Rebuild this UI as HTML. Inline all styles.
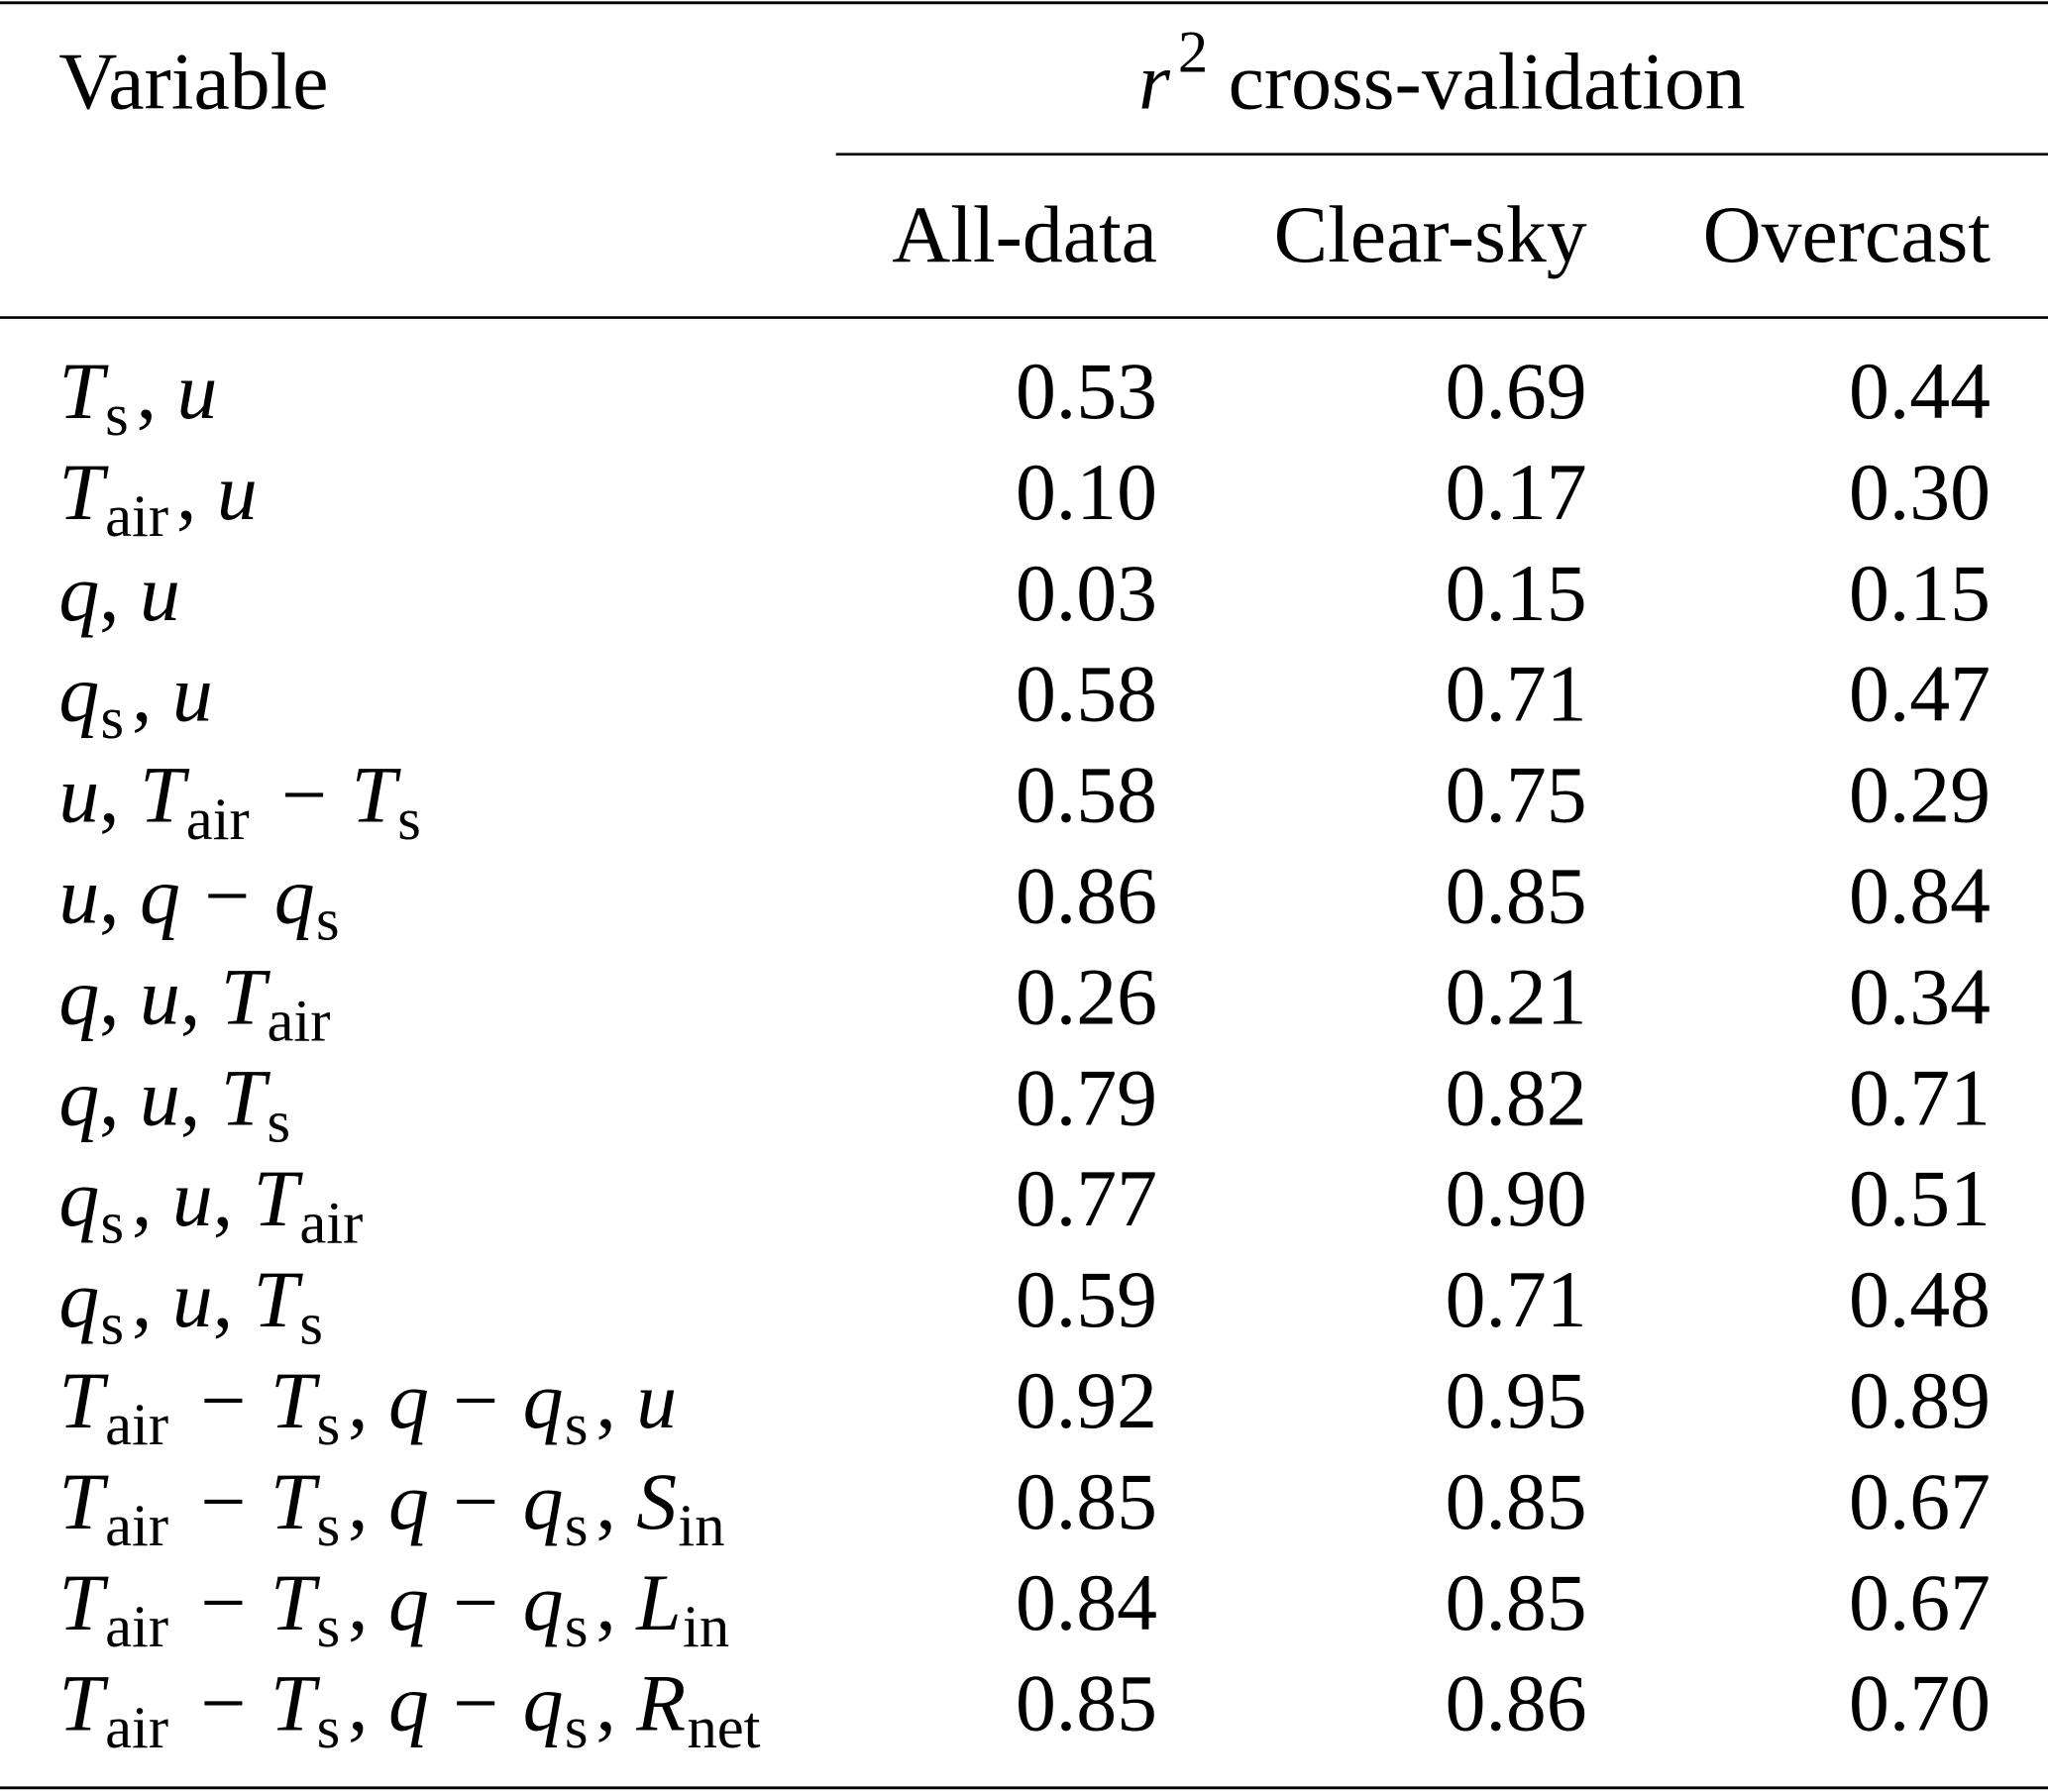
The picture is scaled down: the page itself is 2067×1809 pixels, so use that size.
<!DOCTYPE html>
<html><head><meta charset="utf-8"><style>
html,body{margin:0;padding:0;background:#fff;}
svg{display:block;}
text{font-family:"Liberation Serif",serif;fill:#000;white-space:pre;}
</style></head><body>
<svg id="tbl" width="2067" height="1809" viewBox="0 0 1568 1372" xmlns="http://www.w3.org/2000/svg">
<line x1="0" y1="2" x2="1568" y2="2" stroke="#000" stroke-width="2.2"/>
<line x1="640" y1="118" x2="1568" y2="118" stroke="#000" stroke-width="2"/>
<line x1="0" y1="243" x2="1568" y2="243" stroke="#000" stroke-width="2"/>
<line x1="0" y1="1369" x2="1568" y2="1369" stroke="#000" stroke-width="2.2"/>
<text x="45" y="83" font-size="62">Variable</text>
<text x="1104" y="83" font-size="62" text-anchor="middle"><tspan font-style="italic">r</tspan><tspan font-size="46" dx="6" dy="-28">2</tspan><tspan dy="28"> cross-validation</tspan></text>
<text x="886" y="200" font-size="62" text-anchor="end">All-data</text>
<text x="1215" y="200" font-size="62" text-anchor="end">Clear-sky</text>
<text x="1524" y="200" font-size="62" text-anchor="end">Overcast</text>
</svg>
<script>
const labels = [
 [['i','T'],['s','s'],['r',', '],['i','u']],
 [['i','T'],['s','air'],['r',', '],['i','u']],
 [['i','q'],['r',', '],['i','u']],
 [['i','q'],['s','s'],['r',', '],['i','u']],
 [['i','u'],['r',', '],['i','T'],['s','air'],['m','−'],['i','T'],['s','s']],
 [['i','u'],['r',', '],['i','q'],['m','−'],['i','q'],['s','s']],
 [['i','q'],['r',', '],['i','u'],['r',', '],['i','T'],['s','air']],
 [['i','q'],['r',', '],['i','u'],['r',', '],['i','T'],['s','s']],
 [['i','q'],['s','s'],['r',', '],['i','u'],['r',', '],['i','T'],['s','air']],
 [['i','q'],['s','s'],['r',', '],['i','u'],['r',', '],['i','T'],['s','s']],
 [['i','T'],['s','air'],['m','−'],['i','T'],['s','s'],['r',', '],['i','q'],['m','−'],['i','q'],['s','s'],['r',', '],['i','u']],
 [['i','T'],['s','air'],['m','−'],['i','T'],['s','s'],['r',', '],['i','q'],['m','−'],['i','q'],['s','s'],['r',', '],['i','S'],['s','in']],
 [['i','T'],['s','air'],['m','−'],['i','T'],['s','s'],['r',', '],['i','q'],['m','−'],['i','q'],['s','s'],['r',', '],['i','L'],['s','in']],
 [['i','T'],['s','air'],['m','−'],['i','T'],['s','s'],['r',', '],['i','q'],['m','−'],['i','q'],['s','s'],['r',', '],['i','R'],['s','net']]
];
const allData = ["0.53","0.10","0.03","0.58","0.58","0.86","0.26","0.79","0.77","0.59","0.92","0.85","0.84","0.85"];
const clearSky = ["0.69","0.17","0.15","0.71","0.75","0.85","0.21","0.82","0.90","0.71","0.95","0.85","0.85","0.86"];
const overcast = ["0.44","0.30","0.15","0.47","0.29","0.84","0.34","0.71","0.51","0.48","0.89","0.67","0.67","0.70"];
const svg = document.getElementById('tbl');
const NS = 'http://www.w3.org/2000/svg';
function rowY(i){ return 320 + i*77.3; }
labels.forEach((lab,i)=>{
  const t = document.createElementNS(NS,'text');
  
  
  t.setAttribute('x','45'); t.setAttribute('y',rowY(i)); t.setAttribute('font-size','62');
  let html=''; let prevSub=false; let pendingDx=0;
  lab.forEach(([k,s])=>{
    let a='';
    if(k==='s'){ a=' font-size="46" dx="1" dy="13"'; }
    else {
      let dx = pendingDx; pendingDx = 0;
      if(prevSub){ a=' dy="-13"'; dx += 6; }
      if(k==='m'){ s=' − '; dx += 3; pendingDx = 3; }
      if(dx) a += ' dx="'+dx+'"';
      if(k==='i') a+=' font-style="italic"';
    }
    html += '<tspan'+a+'>'+s+'</tspan>';
    prevSub = (k==='s');
  });
  t.innerHTML = html;
  svg.appendChild(t);
});
function col(arr,x,name){
  arr.forEach((v,i)=>{
    const t = document.createElementNS(NS,'text');
    
    
    t.setAttribute('x',x); t.setAttribute('y',rowY(i)); t.setAttribute('font-size','62');
    t.setAttribute('text-anchor','end');
    t.textContent=v;
    svg.appendChild(t);
  });
}
col(allData,886,'all-data-value');
col(clearSky,1215,'clear-sky-value');
col(overcast,1524,'overcast-value');
</script>
</body></html>
